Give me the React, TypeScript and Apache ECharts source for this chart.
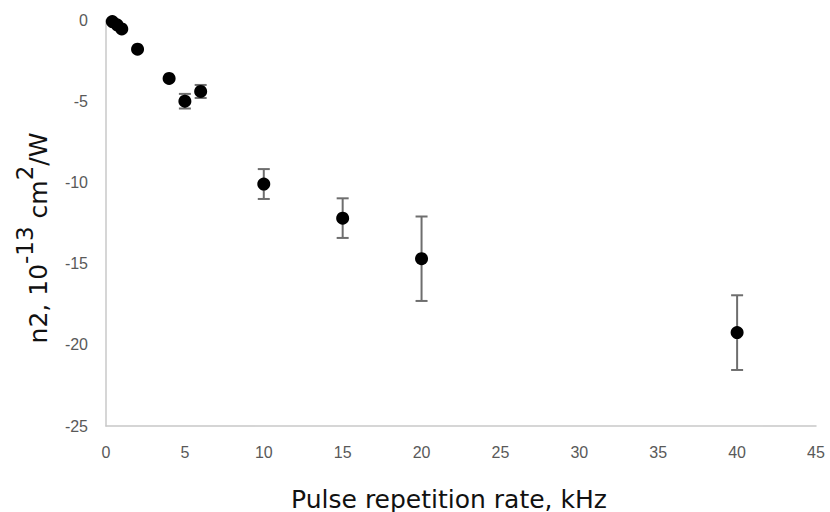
import React, { useEffect, useRef } from "react";
import * as echarts from "echarts";

const xValues = [0.4, 0.7, 1, 2, 4, 5, 6, 10, 15, 20, 40];
const yValues = [-0.1, -0.3, -0.55, -1.8, -3.6, -5.0, -4.4, -10.1, -12.2, -14.7, -19.25];
const errValues = [0, 0, 0, 0, 0, 0.45, 0.4, 0.92, 1.22, 2.6, 2.3];
const xTicks = { min: 0, max: 45, interval: 5 };
const yTicks = { min: -25, max: 0, interval: 5 };
const xTitle = "Pulse repetition rate, kHz";

export default function App() {
  const ref = useRef<HTMLDivElement>(null);
  useEffect(() => {
    if (!ref.current) return;
    const chart = echarts.init(ref.current, undefined, { renderer: "svg" });
    const points = xValues.map((x, i) => [x, yValues[i]]);
    const bars = xValues.map((x, i) => [x, yValues[i], errValues[i]]);
    const labelStyle = { color: "#595959", fontSize: 16, fontFamily: "Liberation Sans, sans-serif" };
    const titleFont = "DejaVu Sans, Verdana, sans-serif";
    chart.setOption({
      animation: false,
      backgroundColor: "#ffffff",
      grid: { left: 106, right: 14, top: 20, bottom: 86 },
      xAxis: {
        type: "value",
        min: xTicks.min,
        max: xTicks.max,
        interval: xTicks.interval,
        axisLine: { show: true, onZero: false, lineStyle: { color: "#c8c8c8", width: 1.5 } },
        axisTick: { show: false },
        splitLine: { show: false },
        axisLabel: { ...labelStyle, margin: 18 },
      },
      yAxis: {
        type: "value",
        min: yTicks.min,
        max: yTicks.max,
        interval: yTicks.interval,
        axisLine: { show: true, onZero: false, lineStyle: { color: "#c8c8c8", width: 1.5 } },
        axisTick: { show: false },
        splitLine: { show: false },
        axisLabel: { ...labelStyle, margin: 18 },
      },
      graphic: [
        {
          type: "text",
          x: 449,
          y: 499,
          style: {
            text: xTitle,
            align: "center",
            verticalAlign: "middle",
            fill: "#111111",
            fontSize: 25,
            fontFamily: titleFont,
          },
        },
        {
          type: "text",
          x: 32,
          y: 238,
          rotation: Math.PI / 2,
          style: {
            text: "{b|n2, 10}{sup|-13}{b| cm}{sup|2}{b|/W}",
            align: "center",
            verticalAlign: "middle",
            fill: "#111111",
            fontFamily: titleFont,
            rich: {
              b: { fontSize: 25, lineHeight: 38, verticalAlign: "bottom", fill: "#111111", fontFamily: titleFont },
              sup: { fontSize: 23, verticalAlign: "top", fill: "#111111", fontFamily: titleFont },
            },
          },
        },
      ],
      series: [
        {
          type: "custom",
          data: bars,
          z: 1,
          renderItem: (params: any, api: any) => {
            const x = api.value(0);
            const y = api.value(1);
            const e = api.value(2);
            if (!e) return null;
            const top = api.coord([x, y + e]);
            const bot = api.coord([x, y - e]);
            const w = 6;
            const style = { stroke: "#6e6e6e", lineWidth: 2 };
            return {
              type: "group",
              children: [
                { type: "line", shape: { x1: top[0], y1: top[1], x2: bot[0], y2: bot[1] }, style },
                { type: "line", shape: { x1: top[0] - w, y1: top[1], x2: top[0] + w, y2: top[1] }, style },
                { type: "line", shape: { x1: bot[0] - w, y1: bot[1], x2: bot[0] + w, y2: bot[1] }, style },
              ],
            };
          },
        },
        {
          type: "scatter",
          data: points,
          z: 2,
          symbol: "circle",
          symbolSize: 13,
          itemStyle: { color: "#000000", opacity: 1 },
        },
      ],
    });
    return () => chart.dispose();
  }, []);
  return (
    <div
      ref={ref}
      style={{ position: "fixed", left: 0, top: 0, width: 830, height: 512 }}
    />
  );
}
